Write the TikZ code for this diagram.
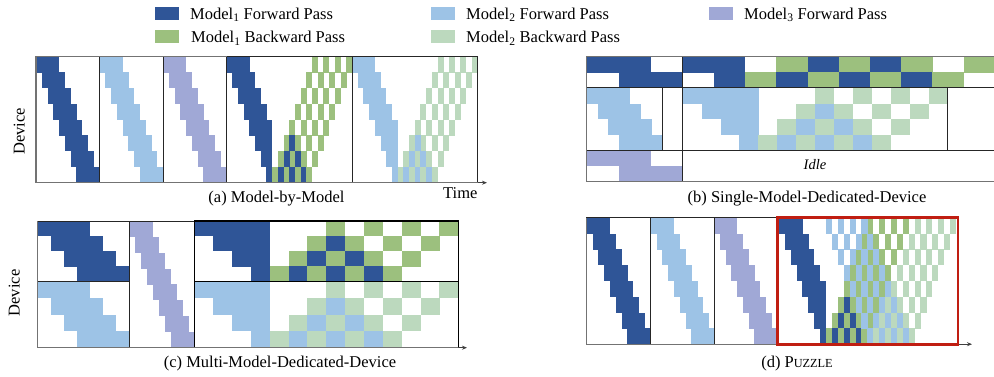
\documentclass[tikz,border=0pt]{standalone}
\usepackage{fontspec}
\setmainfont{Liberation Serif}
\usetikzlibrary{arrows.meta}
\definecolor{mAf}{RGB}{47,85,151}
\definecolor{mBf}{RGB}{157,195,230}
\definecolor{mCf}{RGB}{160,168,214}
\definecolor{mAb}{RGB}{156,192,126}
\definecolor{mBb}{RGB}{188,217,190}
\definecolor{redbox}{RGB}{192,30,18}
% forward-only pipeline: x0,y0,slot,rowh,S,M,colour
\newcommand\gpfwd[7]{%
  \pgfmathtruncatemacro\gpS{#5-1}%
  \pgfmathtruncatemacro\gpM{#6-1}%
  \foreach \s in {0,...,\gpS}{\foreach \m in {0,...,\gpM}{%
    \fill[#7] ({#1+(\s+\m)*#3},{#2+\s*#4}) rectangle ++({#3+0.25},{#4+0.2});}}}
% 1F1B pipeline with 4 micro-batches: x0,y0,slot,rowh,S,fwd colour,bwd colour
\newcommand\ofob[7]{%
  \pgfmathtruncatemacro\gpS{#5-1}%
  \foreach \s in {0,...,\gpS}{\foreach \m in {0,...,3}{%
    \pgfmathtruncatemacro\tf{\s+\m+ifthenelse(\s+\m>#5-1,\m,0)}%
    \pgfmathtruncatemacro\tb{2*#5-1-\s+2*\m}%
    \fill[#6] ({#1+\tf*#3},{#2+\s*#4}) rectangle ++({#3+0.25},{#4+0.2});
    \fill[#7] ({#1+\tb*#3},{#2+\s*#4}) rectangle ++({#3+0.25},{#4+0.2});}}}
\tikzset{
  lab/.style={inner sep=0pt, font=\fontsize{16.5}{19}\selectfont},
  frm/.style={draw=black!85, line width=0.9pt},
  frmthick/.style={draw=black, line width=1.2pt},
  axl/.style={draw=black!55, line width=1.4pt},
  axarr/.style={draw=black!75, line width=0.9pt, -{Stealth[length=5pt,width=4pt]}},
  redline/.style={draw=redbox, line width=2.6pt},
  swatch/.style={inner sep=0pt, minimum width=24pt, minimum height=13pt, anchor=north west}
}
\begin{document}
\begin{tikzpicture}[x=1pt,y=-1pt]
\useasboundingbox (0,0) rectangle (994,377);

% ---------------- legend ----------------
\node[swatch, fill=mAf] (s1) at (155,7) {};
\node[swatch, fill=mAb] (s2) at (155,30) {};
\node[swatch, fill=mBf] (s3) at (431,7) {};
\node[swatch, fill=mBb] (s4) at (431,30) {};
\node[swatch, fill=mCf] (s5) at (709,7) {};
\node[lab, anchor=base west] (t1) at (190,19.3) {Model\textsubscript{1} Forward Pass};
\node[lab, anchor=base west] (t2) at (191,42.7) {Model\textsubscript{1} Backward Pass};
\node[lab, anchor=base west] (t3) at (466,19.3) {Model\textsubscript{2} Forward Pass};
\node[lab, anchor=base west] (t4) at (466,42.7) {Model\textsubscript{2} Backward Pass};
\node[lab, anchor=base west] (t5) at (744,19.3) {Model\textsubscript{3} Forward Pass};

% ---------------- (a) Model-by-Model ----------------
\gpfwd{36}{56.7}{5.773}{15.75}{8}{4}{mAf}
\gpfwd{99.5}{56.7}{5.773}{15.75}{8}{4}{mBf}
\gpfwd{163}{56.7}{5.773}{15.75}{8}{4}{mCf}
\ofob{226.5}{56.7}{5.705}{15.75}{8}{mAf}{mAb}
\ofob{352}{56.7}{5.705}{15.75}{8}{mBf}{mBb}
\draw[frm] (36,56.7) rectangle (99.5,182.7);
\draw[frm] (99.5,56.7) rectangle (163,182.7);
\draw[frm] (163,56.7) rectangle (226.5,182.7);
\draw[frm] (226.5,56.7) rectangle (352,182.7);
\draw[frm] (352,56.7) rectangle (477.5,182.7);
\draw[axl] (226.5,56.7) -- (36,56.7) -- (36,182.7) -- (477.5,182.7);
\draw[axarr] (477.5,182.7) -- (487,182.7);
\node[lab, rotate=90] (dva) at (19.2,131.5) {Device};
\node[lab, anchor=base west] (time) at (443,198.5) {Time};
\node[lab, anchor=base] (capa) at (276.5,202.7) {(a) Model-by-Model};

% ---------------- (b) Single-Model-Dedicated-Device ----------------
\gpfwd{586.7}{56.7}{32}{15.625}{2}{2}{mAf}
\ofob{682.7}{56.7}{31.2}{15.625}{2}{mAf}{mAb}
\gpfwd{586.7}{87.95}{10.86}{15.625}{4}{4}{mBf}
\ofob{682.7}{87.95}{18.93}{15.625}{4}{mBf}{mBb}
\gpfwd{586.7}{150.45}{32}{15.625}{2}{2}{mCf}
\draw[frm] (682.7,56.7) -- (682.7,181.7);
\draw[frm] (586.7,87.95) -- (994,87.95);
\draw[frm] (586.7,150.45) -- (994,150.45);
\draw[frm] (662.7,87.95) -- (662.7,150.45);
\draw[frm] (947.7,87.95) -- (947.7,150.45);
\draw[axl] (994,56.7) -- (586.7,56.7) -- (586.7,181.7) -- (994,181.7);
\node[lab, font=\fontsize{14.5}{17}\selectfont\itshape] (idle) at (815,164.5) {Idle};
\node[lab, anchor=base] (capb) at (807,202.7) {(b) Single-Model-Dedicated-Device};

% ---------------- (c) Multi-Model-Dedicated-Device ----------------
\gpfwd{37.7}{221}{13.09}{15.1}{4}{4}{mAf}
\gpfwd{37.7}{281.4}{13.09}{16.575}{4}{4}{mBf}
\gpfwd{129.3}{221}{5.9}{15.84}{8}{4}{mCf}
\ofob{194.2}{221}{18.86}{15.1}{4}{mAf}{mAb}
\ofob{194.2}{281.4}{18.86}{16.575}{4}{mBf}{mBb}
\draw[frm] (37.7,221) rectangle (129.3,281.4);
\draw[frm] (37.7,281.4) rectangle (129.3,347.7);
\draw[frm] (129.3,221) rectangle (194.2,347.7);
\draw[frmthick] (194.2,221) rectangle (458.3,281.4);
\draw[frmthick] (194.2,281.4) rectangle (458.3,347.7);
\draw[axl] (37.7,221) -- (37.7,347.7) -- (458.3,347.7);
\draw[axarr] (458.3,347.7) -- (467,347.7);
\node[lab, rotate=90] (dvc) at (14.3,293) {Device};
\node[lab, anchor=base] (capc) at (280,367) {(c) Multi-Model-Dedicated-Device};

% ---------------- (d) Puzzle ----------------
\gpfwd{586.7}{217.7}{5.818}{15.81}{8}{4}{mAf}
\gpfwd{650.7}{217.7}{5.818}{15.81}{8}{4}{mBf}
\gpfwd{714.3}{217.7}{5.727}{15.81}{8}{4}{mCf}
\ofob{778.8}{217.7}{5.9}{15.81}{8}{mAf}{mAb}
\foreach \s in {0,...,7}{\foreach \m in {0,...,3}{%
  \pgfmathtruncatemacro\tf{8+\s+2*\m}%
  \pgfmathtruncatemacro\tb{23-\s+2*\m}%
  \fill[mBf] ({778.8+\tf*5.9},{217.7+\s*15.81}) rectangle ++(6.15,16.01);
  \fill[mBb] ({778.8+\tb*5.9},{217.7+\s*15.81}) rectangle ++(6.15,16.01);}}
\draw[frm] (586.7,217.7) rectangle (650.7,344.2);
\draw[frm] (650.7,217.7) rectangle (714.3,344.2);
\draw[frm] (714.3,217.7) rectangle (777.3,344.2);
\draw[axl] (586.7,217.7) -- (586.7,344.2) -- (777.3,344.2);
\draw[axarr] (958,344.2) -- (972,344.2);
\draw[redline] (777.3,217.7) rectangle (958,344.2);
\node[lab, anchor=base] (capd) at (797,367) {(d) P{\fontsize{12.3}{14}\selectfont UZZLE}};
\end{tikzpicture}
\end{document}
